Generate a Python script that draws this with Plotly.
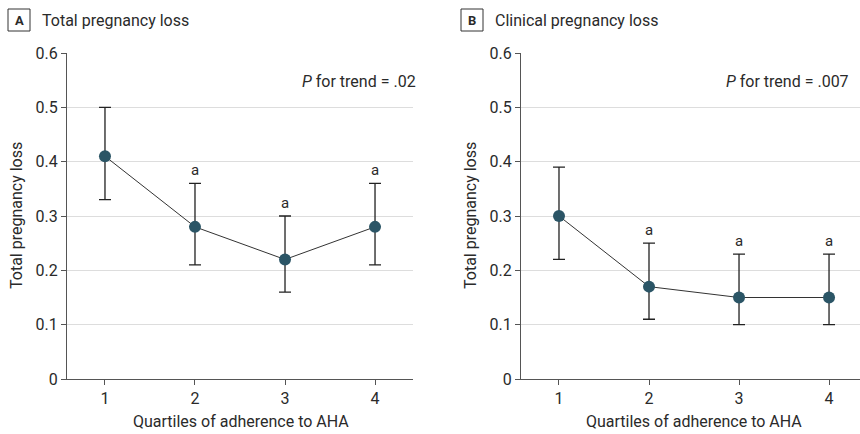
import plotly.graph_objects as go

quartiles = [1, 2, 3, 4]
tick_labels = ["1", "2", "3", "4"]
y_ticks = [0, 0.1, 0.2, 0.3, 0.4, 0.5, 0.6]
y_tick_labels = ["0", "0.1", "0.2", "0.3", "0.4", "0.5", "0.6"]

total_mean = [0.41, 0.28, 0.22, 0.28]
total_upper = [0.50, 0.36, 0.30, 0.36]
total_lower = [0.33, 0.21, 0.16, 0.21]
total_sig = ["", "a", "a", "a"]

clin_mean = [0.30, 0.17, 0.15, 0.15]
clin_upper = [0.39, 0.25, 0.23, 0.23]
clin_lower = [0.22, 0.11, 0.10, 0.10]
clin_sig = ["", "a", "a", "a"]

panels = [
    ("A", "Total pregnancy loss", ".02", total_mean, total_upper, total_lower, total_sig),
    ("B", "Clinical pregnancy loss", ".007", clin_mean, clin_upper, clin_lower, clin_sig),
]

W, H = 860, 434
FONT = "Roboto, 'Noto Sans', sans-serif"
TXT = "#2a2a2a"
MARK = "#2b5566"

x_doms = [[67 / W, 413 / W], [521 / W, 1.0]]
x_ranges = [[0.578, 4.422], [0.578, 4.344]]
y_dom = [55 / H, 381 / H]

fig = go.Figure()
annotations = []
shapes = []
for i, (letter, title, pval, mean, up, lo, sig) in enumerate(panels):
    xa = "x" if i == 0 else "x2"
    ya = "y" if i == 0 else "y2"
    fig.add_trace(go.Scatter(
        x=quartiles, y=mean, xaxis=xa, yaxis=ya, mode="lines+markers",
        line=dict(color="#333333", width=1),
        marker=dict(color=MARK, size=12),
        error_y=dict(type="data", symmetric=False,
                     array=[u - m for u, m in zip(up, mean)],
                     arrayminus=[m - l for m, l in zip(mean, lo)],
                     color="#222222", thickness=1.3, width=6),
        showlegend=False, hoverinfo="skip",
    ))
    for q, u, s in zip(quartiles, up, sig):
        if s:
            annotations.append(dict(x=q, y=u, xref=xa, yref=ya, text=s, showarrow=False,
                                    yanchor="bottom", yshift=2,
                                    font=dict(family=FONT, size=15, color=TXT)))
    # P for trend
    prx = 418 if i == 0 else 851
    annotations.append(dict(x=prx / W, y=0.547, xref="paper", yref=ya,
                            text="<i>P</i> for trend = " + pval,
                            showarrow=False, xanchor="right", yanchor="middle",
                            font=dict(family=FONT, size=16, color=TXT)))
    # Panel letter box + title
    bx0 = 8 if i == 0 else 461
    shapes.append(dict(type="rect", xref="paper", yref="paper",
                       x0=bx0 / W, x1=(bx0 + 22) / W, y0=1 - 31 / H, y1=1 - 9 / H,
                       line=dict(color="#333333", width=1), fillcolor="white"))
    annotations.append(dict(x=(bx0 + 11) / W, y=1 - 20 / H, xref="paper", yref="paper",
                            text="<b>" + letter + "</b>", showarrow=False,
                            xanchor="center", yanchor="middle",
                            font=dict(family=FONT, size=13, color=TXT)))
    annotations.append(dict(x=(bx0 + 32) / W, y=1 - 20 / H, xref="paper", yref="paper",
                            text=title, showarrow=False, xanchor="left", yanchor="middle",
                            font=dict(family=FONT, size=16, color=TXT)))
    # axis titles
    ytx = 17 if i == 0 else 471
    annotations.append(dict(x=ytx / W, y=(y_dom[0] + y_dom[1]) / 2, xref="paper", yref="paper",
                            text="Total pregnancy loss", textangle=-90, showarrow=False,
                            xanchor="center", yanchor="middle",
                            font=dict(family=FONT, size=16, color=TXT)))
    xc = 241 if i == 0 else 694
    annotations.append(dict(x=xc / W, y=1 - 421 / H, xref="paper", yref="paper",
                            text="Quartiles of adherence to AHA", showarrow=False,
                            xanchor="center", yanchor="middle",
                            font=dict(family=FONT, size=16, color=TXT)))

axis_common = dict(showline=True, linecolor="#555555", linewidth=1.3,
                   ticks="outside", ticklen=5, tickcolor="#555555", tickwidth=1,
                   tickfont=dict(family=FONT, size=16, color=TXT), zeroline=False)

fig.update_layout(
    width=W, height=H, margin=dict(l=0, r=0, t=0, b=0),
    paper_bgcolor="white", plot_bgcolor="white",
    annotations=annotations, shapes=shapes,
    xaxis=dict(domain=x_doms[0], range=x_ranges[0], tickvals=quartiles, ticktext=tick_labels,
               showgrid=False, anchor="y", automargin=False, **axis_common),
    yaxis=dict(domain=y_dom, range=[0, 0.6], tickvals=y_ticks, ticktext=y_tick_labels,
               showgrid=True, gridcolor="#dddddd", gridwidth=1.3, anchor="x", automargin=False,
               **axis_common),
    xaxis2=dict(domain=x_doms[1], range=x_ranges[1], tickvals=quartiles, ticktext=tick_labels,
                showgrid=False, anchor="y2", automargin=False, **axis_common),
    yaxis2=dict(domain=y_dom, range=[0, 0.6], tickvals=y_ticks, ticktext=y_tick_labels,
                showgrid=True, gridcolor="#dddddd", gridwidth=1.3, anchor="x2", automargin=False,
                **axis_common),
)

fig.write_html("out.html", config={"displayModeBar": False},
               post_script="document.body.style.margin='0';document.body.style.overflow='hidden';")
